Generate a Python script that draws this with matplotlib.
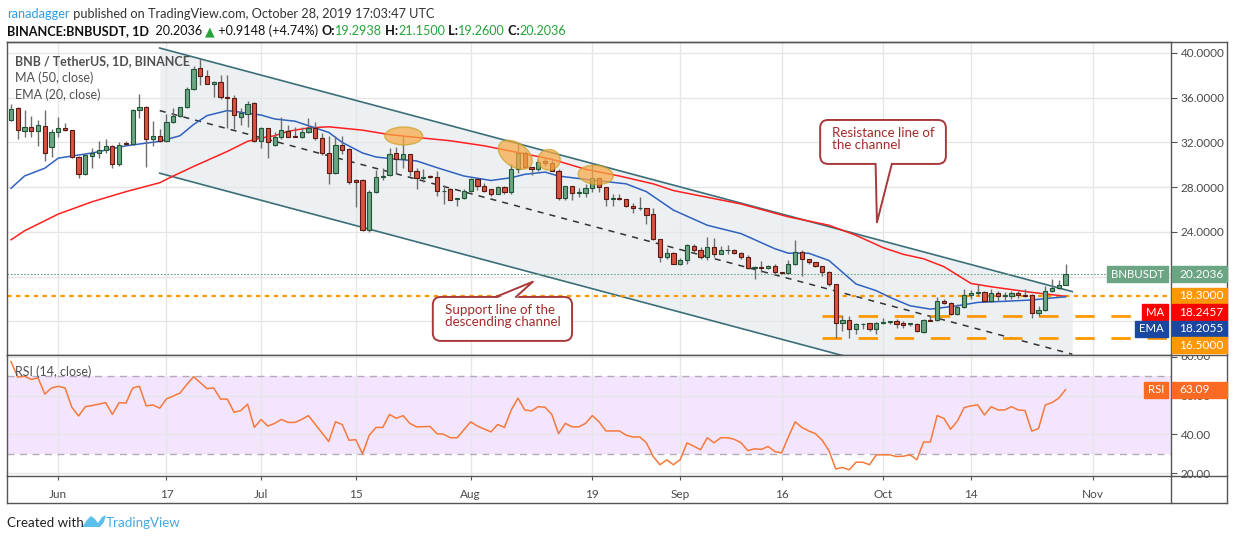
import numpy as np
import pandas as pd
import matplotlib
matplotlib.use("Agg")
import matplotlib.pyplot as plt
import matplotlib.dates as mdates
from matplotlib.patches import Rectangle, Ellipse, FancyBboxPatch, Polygon
from matplotlib.lines import Line2D
from matplotlib.transforms import Bbox

plt.rcParams["font.family"] = ["Lato", "DejaVu Sans"]

# daily candles BNB/USDT, 2019-05-25 .. 2019-10-28
start = pd.Timestamp("2019-05-25")
opens = [34.0, 35.1, 33.0, 33.4, 33.06, 33.5, 31.6, 32.9, 33.3, 33.1,
         30.7, 29.2, 30.75, 31.05, 31.3, 31.7, 30.06, 31.97, 31.9, 34.9,
         35.2, 32.3, 32.6, 32.1, 33.8, 34.4, 35.15, 36.75, 38.7, 37.97,
         37.2, 37.4, 36.06, 36.0, 34.3, 34.5, 35.55, 32.1, 33.25, 31.8,
         32.5, 33.0, 32.55, 32.5, 32.9, 33.25, 32.4, 31.1, 29.3, 31.8,
         31.4, 28.6, 28.6, 24.15, 27.6, 28.95, 29.05, 31.1, 30.5, 30.95,
         29.45, 28.8, 29.0, 28.9, 27.65, 27.8, 26.95, 27.0, 27.7, 28.75,
         28.1, 27.8, 27.4, 28.0, 27.6, 29.65, 31.1, 29.8, 29.65, 30.35,
         30.2, 29.45, 27.0, 28.1, 27.5, 27.5, 27.95, 28.85, 28.0, 26.95,
         27.0, 26.95, 26.35, 26.1, 26.15, 25.6, 23.4, 21.8, 22.15, 21.1,
         21.45, 22.75, 22.4, 21.75, 22.65, 22.05, 22.35, 22.4, 22.15, 21.8,
         20.8, 20.9, 20.8, 21.0, 20.4, 20.3, 21.1, 22.2, 21.6, 21.35,
         21.0, 20.4, 19.35, 15.9, 16.15, 15.3, 15.75, 15.85, 15.3, 15.9,
         15.95, 16.06, 15.83, 15.78, 15.77, 15.1, 16.15, 16.12, 17.86, 17.65,
         16.66, 17.26, 18.37, 18.55, 18.64, 17.8, 18.55, 18.28, 18.28, 18.55,
         18.4, 18.4, 16.75, 17.02, 18.7, 19.0, 19.2938]
highs = [35.45, 35.15, 34.9, 34.4, 34.0, 34.9, 33.2, 34.3, 33.7, 33.1,
         30.75, 31.0, 31.5, 32.1, 32.3, 31.8, 32.0, 32.1, 35.0, 36.36,
         35.3, 33.9, 33.2, 34.5, 35.1, 35.2, 36.97, 38.8, 39.55, 38.5,
         37.5, 38.0, 38.0, 36.2, 35.1, 35.75, 35.6, 33.4, 33.3, 32.9,
         34.3, 33.6, 33.4, 33.4, 34.2, 33.8, 32.85, 32.6, 32.6, 32.6,
         31.5, 28.7, 28.7, 27.75, 29.5, 29.7, 31.46, 31.55, 32.6, 31.0,
         29.75, 29.65, 29.05, 29.45, 28.2, 27.95, 27.0, 27.8, 28.85, 28.85,
         28.4, 27.85, 28.1, 28.1, 30.05, 32.05, 31.25, 29.85, 30.5, 30.65,
         30.5, 29.6, 28.15, 28.1, 27.95, 28.25, 30.05, 28.9, 28.0, 27.4,
         27.35, 26.95, 26.6, 27.1, 26.15, 26.1, 23.4, 22.6, 22.2, 21.7,
         22.95, 22.95, 22.65, 23.55, 23.5, 22.7, 22.8, 22.5, 22.2, 21.9,
         20.95, 21.4, 21.05, 21.1, 20.4, 21.45, 23.25, 22.35, 21.6, 21.35,
         21.0, 20.55, 19.35, 16.6, 16.5, 15.9, 15.9, 15.9, 15.95, 16.35,
         16.05, 16.2, 16.0, 15.9, 15.83, 16.2, 16.5, 18.16, 18.0, 17.7,
         17.55, 18.9, 18.8, 19.36, 18.7, 18.9, 18.75, 18.6, 18.75, 18.75,
         18.9, 18.45, 17.4, 19.2, 19.8, 19.7, 21.15]
lows = [33.9, 32.3, 32.5, 32.5, 31.7, 30.3, 30.7, 32.5, 33.0, 30.6,
        28.8, 29.1, 29.7, 30.6, 31.05, 29.7, 29.9, 31.8, 31.8, 34.15,
        29.85, 31.7, 32.0, 32.0, 33.75, 34.3, 35.1, 36.7, 37.1, 37.2,
        36.06, 35.9, 33.3, 33.2, 33.6, 33.4, 32.0, 31.5, 30.6, 31.7,
        32.3, 32.45, 32.45, 32.4, 32.85, 32.25, 30.9, 28.3, 29.2, 31.0,
        28.3, 26.2, 24.1, 24.0, 27.5, 28.6, 29.0, 29.3, 29.75, 29.0,
        27.85, 28.5, 28.85, 27.25, 26.5, 26.85, 26.3, 26.95, 27.6, 27.75,
        27.6, 27.2, 27.35, 27.35, 27.4, 29.3, 29.7, 29.05, 29.45, 29.9,
        29.45, 26.9, 26.85, 26.85, 27.15, 27.15, 27.6, 27.6, 26.35, 26.3,
        26.85, 26.25, 25.7, 25.95, 24.75, 23.25, 21.3, 21.6, 21.1, 21.05,
        21.15, 22.15, 21.6, 21.45, 21.75, 22.0, 22.0, 22.0, 21.6, 20.7,
        19.8, 20.45, 20.7, 20.25, 20.25, 20.25, 21.05, 20.1, 21.15, 20.85,
        20.1, 19.2, 14.55, 15.15, 14.55, 14.85, 15.3, 15.15, 14.85, 15.75,
        15.75, 15.4, 15.4, 15.6, 15.1, 15.0, 16.0, 16.0, 17.55, 16.6,
        16.6, 17.2, 18.0, 18.3, 17.7, 17.7, 17.85, 17.95, 18.0, 18.1,
        18.15, 16.3, 16.5, 16.95, 18.6, 18.9, 19.26]
closes = [35.0, 33.1, 33.4, 33.06, 33.6, 31.1, 32.9, 33.3, 33.1, 30.7,
          29.2, 30.85, 31.05, 31.3, 31.7, 30.06, 31.8, 31.85, 34.9, 35.2,
          32.3, 32.6, 32.1, 33.8, 34.4, 35.15, 36.75, 38.6, 37.97, 37.2,
          37.4, 36.06, 36.0, 34.45, 34.6, 35.45, 32.1, 33.25, 32.05, 32.5,
          33.1, 32.5, 32.5, 32.9, 33.3, 32.4, 31.1, 29.3, 31.8, 31.36,
          28.5, 28.5, 24.15, 27.6, 28.9, 29.0, 31.0, 30.5, 30.95, 29.45,
          28.8, 28.9, 28.9, 27.7, 27.7, 26.9, 27.0, 27.7, 28.75, 28.1,
          27.7, 27.4, 28.0, 27.6, 29.65, 31.1, 29.8, 29.65, 30.25, 30.2,
          29.45, 27.0, 28.1, 27.5, 27.55, 27.95, 28.85, 28.0, 26.95, 27.0,
          26.95, 26.3, 26.1, 26.15, 25.55, 23.4, 21.8, 22.15, 21.1, 21.45,
          22.8, 22.4, 21.75, 22.65, 22.05, 22.4, 22.4, 22.15, 21.8, 20.8,
          20.85, 20.8, 21.0, 20.4, 20.3, 21.1, 22.2, 21.6, 21.35, 21.0,
          20.4, 19.35, 15.9, 16.15, 15.3, 15.75, 15.8, 15.3, 15.9, 15.95,
          16.0, 15.76, 15.7, 15.8, 15.16, 16.12, 16.06, 17.86, 17.65, 16.66,
          17.26, 18.37, 18.55, 18.64, 17.8, 18.55, 18.25, 18.37, 18.55, 18.34,
          18.3, 16.75, 17.02, 18.7, 19.0, 19.29, 20.2036]

# indicator values (candle number, value)
ma_idx = [1, 3, 8, 13, 18, 23, 25, 28, 33, 36, 38, 40, 42, 45, 48, 53, 57, 61, 66,
          71, 76, 81, 86, 91, 96, 99, 109, 116, 122, 126, 130, 133, 136, 139, 143,
          146, 152, 157]
ma_val = [23.3, 24.1, 25.6, 26.7, 27.6, 28.4, 29.0, 29.85, 31.2, 32.1, 32.4, 32.6,
          33.0, 33.3, 33.4, 33.1, 32.7, 32.45, 32.15, 31.7, 31.1, 30.5, 29.6, 29.0,
          28.3, 27.7, 26.5, 25.35, 24.6, 23.7, 22.6, 22.0, 21.6, 20.9, 19.4, 19.1,
          18.6, 18.25]
ema_idx = [1, 3, 6, 8, 13, 18, 23, 26, 28, 30, 33, 35, 38, 40, 43, 45, 48, 50, 53,
           55, 58, 61, 64, 68, 72, 75, 77, 80, 82, 86, 89, 92, 95, 99, 104, 109,
           114, 116, 119, 122, 124, 126, 129, 131, 134, 137, 141, 144, 148, 152,
           155, 157]
ema_val = [27.9, 29.0, 29.7, 30.6, 31.06, 31.7, 32.1, 32.6, 33.6, 34.4, 34.85, 34.7,
           34.45, 34.1, 33.9, 33.5, 32.9, 32.0, 31.06, 30.7, 30.5, 30.35, 29.75,
           29.0, 28.6, 28.85, 29.15, 29.35, 29.0, 28.7, 28.5, 28.3, 27.6, 25.95,
           24.6, 23.85, 22.5, 22.1, 22.1, 21.45, 20.4, 19.35, 18.75, 18.16, 17.4,
           17.1, 17.4, 17.7, 17.8, 17.92, 18.1, 18.2]
rsi_idx = (list(range(1, 25)) + [26, 27, 28] + list(range(30, 46))
           + list(range(48, 62)) + list(range(63, 68)) + [69, 70]
           + list(range(72, 90)) + list(range(91, 158)))
rsi_val = [77.5, 69.5, 70.0, 68.3, 69.1, 60.8, 63.9, 64.8, 63.9, 54.0,
           49.5, 54.3, 54.9, 55.6, 56.4, 50.3, 56.4, 56.1, 63.9, 64.8,
           54.7, 55.2, 53.5, 58.3,
           61.3, 65.7, 69.7,
           63.6, 63.9, 58.2, 58.2, 51.4, 52.3, 55.6, 43.6, 47.7, 44.3, 45.7, 47.7,
           46.2, 46.2, 47.7, 49.7,
           36.4, 46.5, 45.1, 37.0, 37.3, 30.0, 39.6, 43.6, 43.6, 50.3, 48.3, 49.7,
           45.7, 43.9,
           44.1, 40.4, 40.1, 38.3, 38.3,
           46.5, 44.3,
           41.3, 45.1, 43.6, 52.6, 58.7, 52.6, 52.1, 54.3, 54.0, 50.3, 40.4, 45.7,
           43.9, 43.9, 45.7, 49.7, 46.5, 41.8,
           41.8, 39.6, 38.7, 38.7, 35.7, 28.6, 24.4, 26.9, 24.4, 27.0,
           35.6, 34.0, 32.1, 38.3, 35.7, 38.3, 38.3, 37.5, 35.7, 31.7,
           32.6, 32.3, 33.8, 31.2, 30.5, 38.7, 46.5, 43.6, 41.8, 40.4,
           37.0, 31.7, 22.2, 23.0, 21.8, 25.7, 25.7, 24.4, 29.5, 29.5,
           29.5, 28.6, 28.8, 29.5, 27.0, 36.1, 36.1, 49.7, 48.3, 42.7,
           46.9, 53.8, 54.7, 55.2, 50.0, 54.3, 52.6, 52.6, 54.3, 52.6,
           52.3, 41.7, 43.0, 55.2, 56.4, 58.7, 63.09]

# drawings on the chart
chan_idx = [23, 158]
chan_upper = [40.44, 18.67]
chan_lower = [29.25, 7.47]
level_full = 18.30
levels_right = [16.50, 14.50]
level_start = 121
last_price = 20.2036
ma_last, ema_last, rsi_last = 18.2457, 18.2055, 63.09
# (candle, price, width in days, height in price, tilt in degrees)
circles = [(59.1, 32.58, 5.6, 1.6, 0), (75.6, 30.9, 5.6, 2.1, -35),
           (80.6, 30.45, 3.3, 1.85, 0), (87.5, 29.1, 5.2, 1.7, -5)]

xticks = ["2019-06-01", "2019-06-17", "2019-07-01", "2019-07-15", "2019-08-01",
          "2019-08-19", "2019-09-01", "2019-09-16", "2019-10-01", "2019-10-14",
          "2019-11-01"]
xlabels = ["Jun", "17", "Jul", "15", "Aug", "19", "Sep", "16", "Oct", "14", "Nov"]

GREEN, RED = "#6ba583", "#d75442"
GREEN_E, RED_E = "#225437", "#5b1a13"
ORANGE = "#ff9800"
W, H = 1234, 540


def fx(x):
    return x / W


def fy(y):
    return 1 - y / H


def xi(i):
    return mdates.date2num(start) + np.asarray(i, dtype=float) - 1


fig = plt.figure(figsize=(W / 100, H / 100), dpi=100)
ax = fig.add_axes([fx(7), fy(355), fx(1171) - fx(7), fy(42) - fy(355)])
axr = fig.add_axes([fx(7), fy(476), fx(1171) - fx(7), fy(355) - fy(476)], sharex=ax)

o, h, l, c = map(np.array, (opens, highs, lows, closes))
xd = xi(np.arange(1, len(c) + 1))
up = c >= o

for a in (ax, axr):
    a.set_axisbelow("line")
    a.grid(True, color="#e6e6e6", lw=1)
    for s in a.spines.values():
        s.set_color("#555555")
        s.set_linewidth(1)
    a.yaxis.tick_right()
    a.tick_params(axis="y", length=4, color="#555555", labelcolor="#4a4a4a",
                  labelsize=8.5, pad=3)

# channel
cx = xi(chan_idx)
ax.fill_between(cx, chan_lower, chan_upper, color="#dde2e8", alpha=0.5, lw=0)
ax.plot(cx, chan_upper, color="#3b6f78", lw=1.2, zorder=2)
ax.plot(cx, chan_lower, color="#3b6f78", lw=1.2, zorder=2)
mid = [(u + d) / 2 for u, d in zip(chan_upper, chan_lower)]
ax.plot(cx, mid, color="#333333", lw=1.1, dashes=(4, 4), zorder=2)

# levels
ax.axhline(level_full, color=ORANGE, lw=1.6, ls=(0, (2, 2)), zorder=2)
ax.axhline(last_price, color=GREEN, lw=0.8, ls=(0, (1.5, 1.5)), zorder=2)
for lv in levels_right:
    ax.plot([xi(level_start), xi(175)], [lv, lv], color=ORANGE, lw=2,
            dashes=(7, 6), zorder=2)

# moving averages
ax.plot(xi(ma_idx), ma_val, color="#ff2020", lw=1.1, zorder=2.5)
ax.plot(xi(ema_idx), ema_val, color="#2f62c0", lw=1.1, zorder=2.5)

# candles
ax.vlines(xd, l, h, color="#6e6e6e", lw=1, zorder=3)
body = np.maximum(np.abs(c - o), 0.05)
ax.bar(xd, body, bottom=np.minimum(o, c), width=0.62,
       color=np.where(up, GREEN, RED), edgecolor=np.where(up, GREEN_E, RED_E),
       lw=0.8, zorder=3.5)

ax.set_xlim(xi(0.41), xi(172.6))
ax.set_ylim(13.0, 40.98)
ax.set_yticks([16, 20, 24, 28, 32, 36, 40])
ax.set_yticklabels(["", "", "24.0000", "28.0000", "32.0000", "36.0000", "40.0000"])
ax.tick_params(axis="x", bottom=False, labelbottom=False)

# highlighted touches (sized in screen pixels so they can be tilted)
px_day = ax.transData.transform((xi(2), 0))[0] - ax.transData.transform((xi(1), 0))[0]
px_unit = ax.transData.transform((xi(1), 1))[1] - ax.transData.transform((xi(1), 0))[1]
for cc, pp, ww, hh, ang in circles:
    ctr = ax.transData.transform((xi(cc), pp))
    ax.add_patch(Ellipse(ctr, ww * px_day, hh * px_unit, angle=ang, transform=None,
                         fc="#f7a944", ec="#c9a227", lw=1, alpha=0.72, zorder=5))

# RSI
axr.fill_between(xi([0, 175]), 30, 70, color="#f3e5fd", lw=0)
for lv in (70, 30):
    axr.axhline(lv, color="#b3abb8", lw=1, dashes=(5, 4), zorder=1.6)
axr.plot(xi(rsi_idx), rsi_val, color="#f7793a", lw=1.1, zorder=3)
axr.set_ylim(18.6, 80.9)
axr.set_yticks([20, 40, 60, 80])
axr.set_yticklabels(["20.00", "40.00", "60.00", ""])
axr.set_xticks(mdates.date2num(pd.to_datetime(xticks)))
axr.set_xticklabels(xlabels)
axr.tick_params(axis="x", length=3, color="#555555", labelcolor="#4a4a4a",
                labelsize=8.5, pad=6)
# top RSI scale label, cut by the pane border as in the screenshot
y80 = axr.transData.transform((xd[0], 80))[1]
t80 = fig.text(fx(1180), y80 / H, "80.00", color="#4a4a4a", fontsize=8.5,
               va="center")
t80.set_clip_box(Bbox.from_extents(1171, H - 476, 1227, H - 356))
t80.set_clip_on(True)

# frame around right scale and time axis
for (x0, y0, x1, y1) in [(7, 42, 1227, 42), (1171, 355, 1227, 355),
                         (1171, 476, 1227, 476), (7, 503, 1227, 503),
                         (1227, 42, 1227, 503), (7, 476, 7, 503),
                         (1171, 476, 1171, 503)]:
    fig.add_artist(Line2D([fx(x0), fx(x1)], [fy(y0), fy(y1)], color="#555555",
                          lw=1))

# legends in panes
fig.text(fx(15), fy(61), "BNB / TetherUS, 1D, BINANCE", fontsize=9.0,
         weight="bold", color="#505050", va="center")
fig.text(fx(15), fy(78), "MA (50, close)", fontsize=9.0, color="#505050", va="center")
fig.text(fx(15), fy(95), "EMA (20, close)", fontsize=9.0, color="#505050", va="center")
fig.text(fx(15), fy(372), "RSI (14, close)", fontsize=9.0, color="#505050", va="center")

renderer = fig.canvas.get_renderer()


def price_tag(yimg, value_txt, color, name=None):
    fig.add_artist(Rectangle((1171.5, H - yimg - 8), 55.5, 16, transform=None,
                             color=color, zorder=10))
    fig.text(fx(1179), fy(yimg), value_txt, color="white", fontsize=8.6,
             va="center", zorder=11)
    if name:
        t = fig.text(fx(1164), fy(yimg), name, color="white", fontsize=8.2,
                     va="center", ha="right", zorder=11)
        w = t.get_window_extent(renderer).width
        fig.add_artist(Rectangle((1168 - w - 8, H - yimg - 8), w + 8, 16,
                                 transform=None, color=color, zorder=10))


tags = [(last_price, "BNBUSDT", GREEN), (level_full, None, ORANGE),
        (ma_last, "MA", "#ff0000"), (ema_last, "EMA", "#1a47a2"),
        (levels_right[0], None, ORANGE)]
prev = -100
for val, name, col in tags:
    yimg = H - ax.transData.transform((xd[0], val))[1]
    yimg = max(yimg, prev + 16.5)
    prev = yimg
    price_tag(yimg, f"{val:.4f}", col, name)
yr = H - axr.transData.transform((xd[0], rsi_last))[1]
price_tag(yr, f"{rsi_last:.2f}", "#fb6a22", "RSI")


# callouts
def callout(i0, i1, ptop, pbot, base, tip, lines):
    X0, YT = ax.transData.transform((xi(i0), ptop))
    X1, YB = ax.transData.transform((xi(i1), pbot))
    fig.add_artist(FancyBboxPatch((X0, YB), X1 - X0, YT - YB,
                                  boxstyle="round,pad=0,rounding_size=8",
                                  transform=None, fc="white", ec="#a8393b",
                                  lw=1.4, zorder=8))
    b1 = ax.transData.transform((xi(base[0]), base[2]))
    b2 = ax.transData.transform((xi(base[1]), base[2]))
    tp = ax.transData.transform((xi(tip[0]), tip[1]))
    edge_y = YB if tip[1] < pbot else YT
    inward = 2 if tip[1] < pbot else -2
    b1 = (b1[0], edge_y + inward)
    b2 = (b2[0], edge_y + inward)
    fig.add_artist(Polygon([b1, tp, b2], closed=True, transform=None,
                           fc="white", ec="none", zorder=8.5))
    fig.add_artist(Line2D([b1[0], tp[0], b2[0]], [edge_y, tp[1], edge_y],
                          transform=None, color="#a8393b", lw=1.4, zorder=9))
    fig.text((X0 + 12) / W, (YT - 7) / H, lines, transform=fig.transFigure,
             color="#a52a2a", fontsize=9.6, va="top", ha="left",
             linespacing=1.05, zorder=9.5)


callout(120.7, 139.3, 34.01, 30.08, (128.9, 131.3, 30.08), (129.1, 24.85),
        "Resistance line of\nthe channel")
callout(63.4, 84.0, 18.19, 14.26, (72.7, 75.7, 18.19), (78.2, 19.55),
        "Support line of the\ndescending channel")

# header


def chain(parts, x, y, size):
    t = None
    for s, col, wt in parts:
        if t is None:
            t = fig.text(fx(x), fy(y), s, color=col, fontsize=size, weight=wt,
                         va="bottom")
        else:
            t = ax.annotate(s, xy=(1, 0), xycoords=t, color=col, fontsize=size,
                            weight=wt, va="bottom", ha="left",
                            annotation_clip=False)
    return t


UPC = "#26a33a"
chain([("ranadagger", "#2f9be4", "normal"),
       (" published on TradingView.com, October 28, 2019 17:03:47 UTC", "#333333",
        "normal")], 7, 20, 9.2)
chain([("BINANCE:BNBUSDT, 1D", "#111111", "bold"), ("  20.2036 ", "#111111", "normal"),
       ("▲", UPC, "normal"), (" +0.9148 (+4.74%) ", "#111111", "normal"),
       ("O:", "#111111", "bold"), ("19.2938", UPC, "normal"),
       (" H:", "#111111", "bold"), ("21.1500", UPC, "normal"),
       (" L:", "#111111", "bold"), ("19.2600", UPC, "normal"),
       (" C:", "#111111", "bold"), ("20.2036", UPC, "normal")], 7, 37, 9.1)

# footer
fig.text(fx(7), fy(523), "Created with", fontsize=9.6, color="#222222", va="center")
logo = [(82, 527), (87, 520), (91, 516), (95, 519), (98, 523), (102, 517),
        (106, 515), (104, 522), (100, 527)]
fig.add_artist(Polygon([(x, H - y) for x, y in logo], closed=True,
                       transform=None, fc="#5bc0eb", ec="none"))
fig.text(fx(106), fy(523), "TradingView", fontsize=9.6, color="#45a8e2", va="center")

fig.savefig("out.png", dpi=100)
